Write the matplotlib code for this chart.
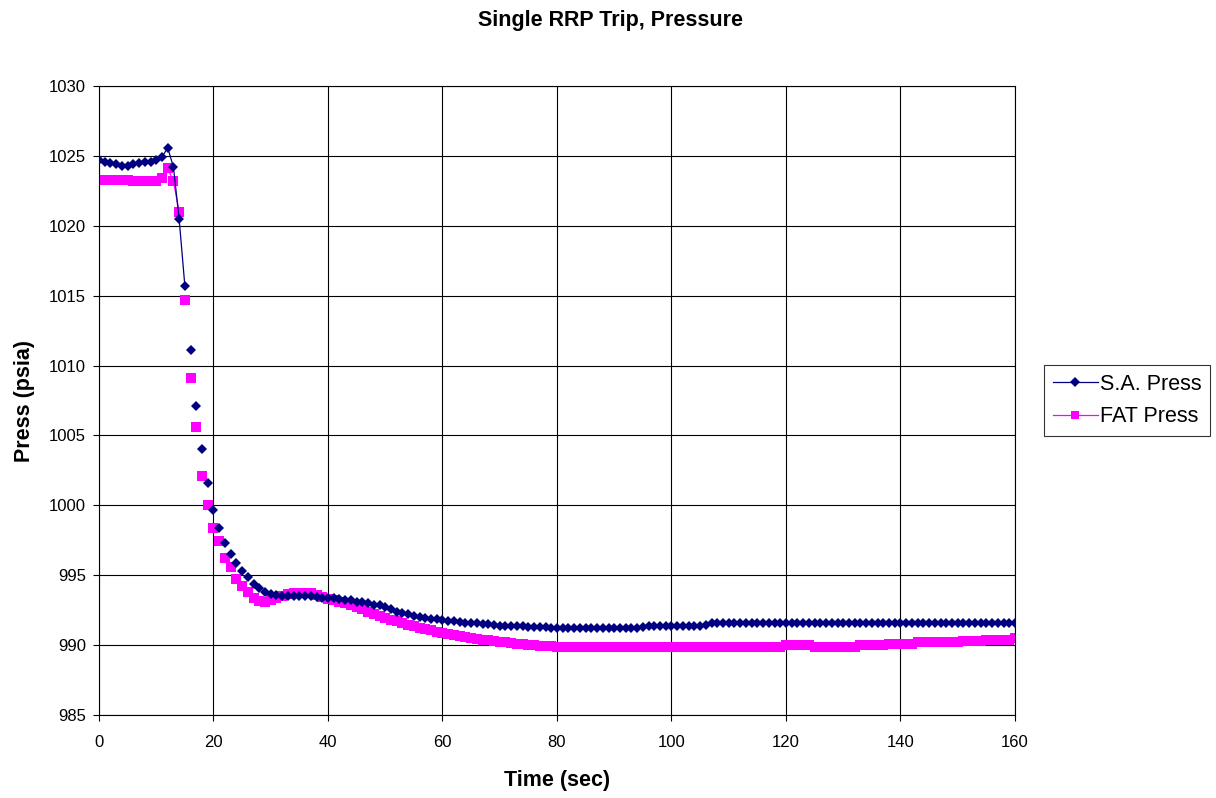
import numpy as np
import matplotlib
matplotlib.use("Agg")
import matplotlib.pyplot as plt

plt.rcParams['font.family'] = ['Liberation Sans', 'DejaVu Sans']

# Time in seconds, one sample per second
time_sec = list(range(0, 161))

sa_press = [
    1024.7, 1024.6, 1024.5, 1024.4, 1024.3, 1024.3, 1024.4, 1024.5, 1024.6, 1024.6,
    1024.7, 1024.9, 1025.6, 1024.2, 1020.5, 1015.7, 1011.1, 1007.1, 1004.0, 1001.6,
    999.7, 998.4, 997.3, 996.5, 995.9, 995.3, 994.85, 994.4, 994.1, 993.8,
    993.65, 993.6, 993.55, 993.55, 993.5, 993.5, 993.5, 993.5, 993.45, 993.4,
    993.4, 993.35, 993.3, 993.25, 993.2, 993.1, 993.05, 993.0, 992.9, 992.85,
    992.7, 992.55, 992.4, 992.3, 992.2, 992.1, 992.0, 991.95, 991.9, 991.85,
    991.8, 991.75, 991.7, 991.65, 991.6, 991.6, 991.55, 991.5, 991.5, 991.45,
    991.4, 991.4, 991.4, 991.35, 991.35, 991.3, 991.3, 991.3, 991.3, 991.25,
    991.25, 991.25, 991.25, 991.25, 991.25, 991.25, 991.25, 991.25, 991.25, 991.25,
    991.25, 991.25, 991.25, 991.25, 991.25, 991.3, 991.35, 991.35, 991.4, 991.4,
    991.4, 991.4, 991.4, 991.4, 991.4, 991.4, 991.45, 991.55, 991.55, 991.55,
    991.55, 991.55, 991.55, 991.6, 991.6, 991.6, 991.6, 991.6, 991.6, 991.6,
    991.6, 991.6, 991.6, 991.6, 991.6, 991.6, 991.6, 991.6, 991.6, 991.6,
    991.6, 991.6, 991.6, 991.6, 991.6, 991.55, 991.55, 991.55, 991.55, 991.55,
    991.55, 991.55, 991.55, 991.55, 991.55, 991.55, 991.55, 991.55, 991.6, 991.6,
    991.6, 991.6, 991.6, 991.6, 991.6, 991.6, 991.6, 991.6, 991.6, 991.6,
    991.6,
]

fat_press = [
    1023.3, 1023.3, 1023.3, 1023.3, 1023.3, 1023.25, 1023.2, 1023.2, 1023.2, 1023.2,
    1023.2, 1023.4, 1024.1, 1023.2, 1021.0, 1014.7, 1009.1, 1005.6, 1002.1, 1000.05,
    998.4, 997.45, 996.2, 995.6, 994.7, 994.2, 993.8, 993.4, 993.15, 993.1,
    993.2, 993.35, 993.55, 993.65, 993.7, 993.75, 993.75, 993.7, 993.6, 993.45,
    993.3, 993.2, 993.1, 993.0, 992.85, 992.7, 992.55, 992.4, 992.25, 992.05,
    991.95, 991.8, 991.7, 991.55, 991.45, 991.35, 991.25, 991.15, 991.05, 990.95,
    990.85, 990.8, 990.75, 990.65, 990.6, 990.5, 990.45, 990.4, 990.35, 990.3,
    990.25, 990.2, 990.15, 990.1, 990.05, 990.0, 990.0, 989.95, 989.95, 989.95,
    989.9, 989.9, 989.9, 989.9, 989.9, 989.9, 989.9, 989.9, 989.9, 989.9,
    989.9, 989.9, 989.9, 989.9, 989.9, 989.9, 989.9, 989.9, 989.9, 989.9,
    989.9, 989.9, 989.9, 989.9, 989.9, 989.9, 989.9, 989.9, 989.9, 989.9,
    989.9, 989.9, 989.9, 989.9, 989.9, 989.9, 989.9, 989.9, 989.9, 989.9,
    990.0, 990.0, 990.0, 990.0, 990.0, 989.9, 989.9, 989.9, 989.9, 989.9,
    989.9, 989.9, 989.9, 990.0, 990.0, 990.0, 990.0, 990.0, 990.1, 990.1,
    990.1, 990.1, 990.1, 990.25, 990.25, 990.25, 990.25, 990.25, 990.25, 990.25,
    990.25, 990.3, 990.3, 990.3, 990.3, 990.4, 990.4, 990.4, 990.4, 990.4,
    990.5,
]

x_ticks = list(range(0, 161, 20))
y_ticks = list(range(985, 1031, 5))

# connecting lines are only drawn over the first part of each record
sa_line_end = 16
fat_line_end = 15

SA_COLOR = '#000080'
FAT_COLOR = '#FF00FF'

fig = plt.figure(figsize=(12.16, 7.98), dpi=100)
ax = fig.add_axes([0.0814, 0.104, 0.7533, 0.7882])

ax.plot(time_sec[:fat_line_end], fat_press[:fat_line_end], color=FAT_COLOR,
        linewidth=0.9, zorder=2)
ax.plot(time_sec, fat_press, linestyle='none', marker='s', markersize=6.6,
        markeredgewidth=0, color=FAT_COLOR, zorder=2)
ax.plot(time_sec[:sa_line_end], sa_press[:sa_line_end], color=SA_COLOR,
        linewidth=0.9, zorder=3)
ax.plot(time_sec, sa_press, linestyle='none', marker='D', markersize=5.6,
        markeredgewidth=0, color=SA_COLOR, zorder=3)

# legend handles: line with marker
h_sa, = ax.plot([], [], color=SA_COLOR, linewidth=0.9, marker='D',
                markersize=5.4, markeredgewidth=0, label='S.A. Press')
h_fat, = ax.plot([], [], color=FAT_COLOR, linewidth=0.9, marker='s',
                 markersize=6.4, markeredgewidth=0, label='FAT Press')

ax.set_xlim(0, 160)
ax.set_ylim(985, 1030)
ax.set_xticks(x_ticks)
ax.set_yticks(y_ticks)
ax.tick_params(axis='both', labelsize=12, direction='out', length=4.5,
               width=0.8, color='black')
ax.tick_params(axis='x', pad=10)
ax.tick_params(axis='y', pad=5)
ax.grid(True, color='black', linewidth=0.8)
ax.set_axisbelow(True)
for sp in ax.spines.values():
    sp.set_color('black')
    sp.set_linewidth(0.8)

ax.set_xlabel('Time (sec)', fontsize=15.5, fontweight='bold', labelpad=14)
ax.set_ylabel('Press (psia)', fontsize=15.5, fontweight='bold', labelpad=10)
fig.text(0.502, 0.988, 'Single RRP Trip, Pressure', ha='center', va='top',
         fontsize=15.5, fontweight='bold')

leg = ax.legend(handles=[h_sa, h_fat], loc='upper left',
                bbox_to_anchor=(0.8586, 0.5426),
                bbox_transform=fig.transFigure, borderaxespad=0,
                fontsize=15.5, frameon=True, fancybox=False, edgecolor='black',
                handlelength=2.1, handletextpad=0.1, borderpad=0.4,
                labelspacing=0.55)
leg.get_frame().set_linewidth(0.8)

fig.savefig('out.png', dpi=100)
